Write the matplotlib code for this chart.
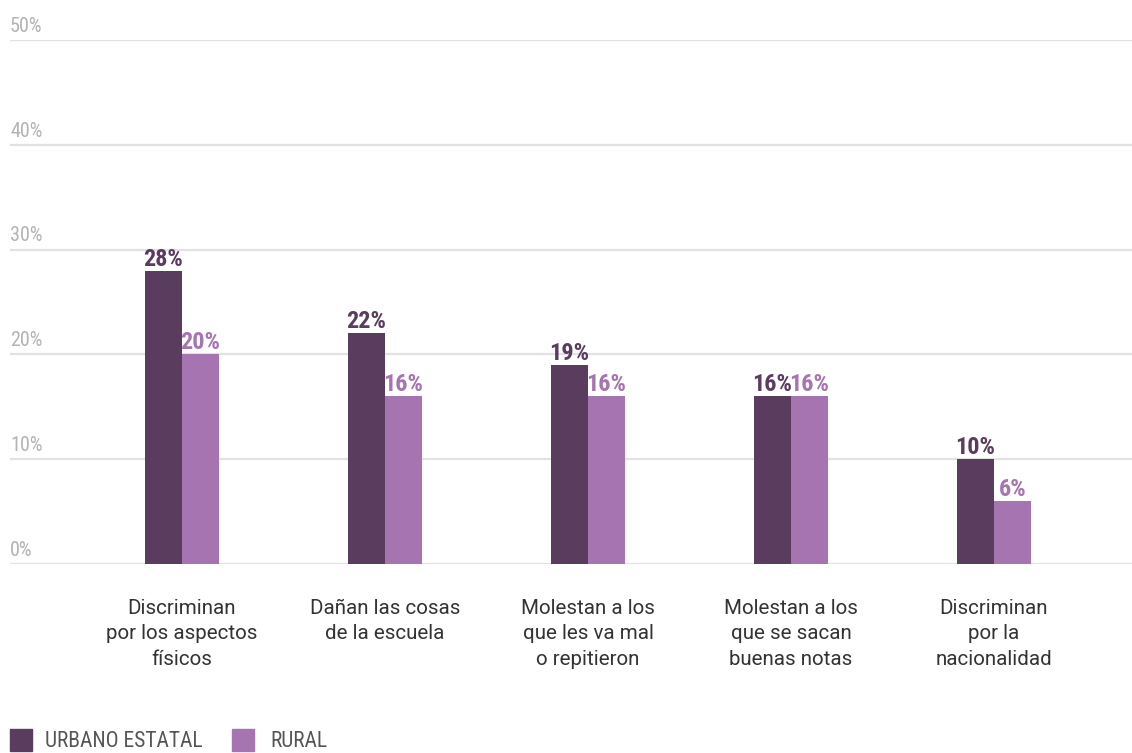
import matplotlib
matplotlib.use("Agg")
import matplotlib.pyplot as plt
from matplotlib.patches import Rectangle
import numpy as np

# ---------------- data ----------------
categories = [
    "Discriminan\npor los aspectos\nfísicos",
    "Dañan las cosas\nde la escuela",
    "Molestan a los\nque les va mal\no repitieron",
    "Molestan a los\nque se sacan\nbuenas notas",
    "Discriminan\npor la\nnacionalidad",
]
urbano = [28, 22, 19, 16, 10]
rural = [20, 16, 16, 16, 6]
series_names = ["URBANO ESTATAL", "RURAL"]
y_ticks = [0, 10, 20, 30, 40, 50]

# ---------------- style ----------------
DARK = "#5a3c5e"
LIGHT = "#a674b0"
GRID = "#e2e2e2"
NARROW = ["Roboto Condensed", "Liberation Sans Narrow", "Roboto", "DejaVu Sans"]
SANS = ["Roboto", "DejaVu Sans"]

fig = plt.figure(figsize=(11.32, 7.53), dpi=100)
ax = fig.add_axes([10 / 1132, 1 - 564 / 753, 1 - 10 / 1132, 524 / 753])

x = np.arange(len(categories))
w = 0.182

b1 = ax.bar(x - w / 2, urbano, w, color=DARK, zorder=3)
b2 = ax.bar(x + w / 2, rural, w, color=LIGHT, zorder=3)

for bars, vals, col in [(b1, urbano, DARK), (b2, rural, LIGHT)]:
    for r, v in zip(bars, vals):
        ax.annotate(f"{v}%", (r.get_x() + r.get_width() / 2, v),
                    xytext=(0, 0), textcoords="offset points",
                    ha="center", va="bottom", color=col,
                    fontsize=17.5, fontweight="bold", family=NARROW)

ax.set_xlim(-0.847, 4.68)
ax.set_ylim(0, 50)

# gridlines with labels sitting above them
for t in y_ticks:
    ax.axhline(t, color=GRID, lw=1.6, zorder=1)
    ax.annotate(f"{t}%", (0, t), xycoords=("axes fraction", "data"),
                xytext=(0, 3), textcoords="offset points",
                ha="left", va="bottom", color="#b3b3b3",
                fontsize=14.5, family=NARROW)

ax.set_xticks([])
ax.set_yticks([])
for s in ax.spines.values():
    s.set_visible(False)

# category labels under the groups
for xi, lab in zip(x, categories):
    ax.annotate(lab, (xi, 0), xytext=(0, -25), textcoords="offset points",
                ha="center", va="top", fontsize=14.8, color="#333333",
                family=SANS, linespacing=1.45)

# legend
fig.add_artist(Rectangle((10 / 1132, 2 / 753), 22 / 1132, 22 / 753,
                         transform=fig.transFigure, color=DARK))
fig.text(45 / 1132, 1 / 753, series_names[0], ha="left", va="bottom",
         fontsize=15.5, color="#555555", family=NARROW)
fig.add_artist(Rectangle((232 / 1132, 2 / 753), 22 / 1132, 22 / 753,
                         transform=fig.transFigure, color=LIGHT))
fig.text(270 / 1132, 1 / 753, series_names[1], ha="left", va="bottom",
         fontsize=15.5, color="#555555", family=NARROW)

fig.savefig("out.png", dpi=100)
